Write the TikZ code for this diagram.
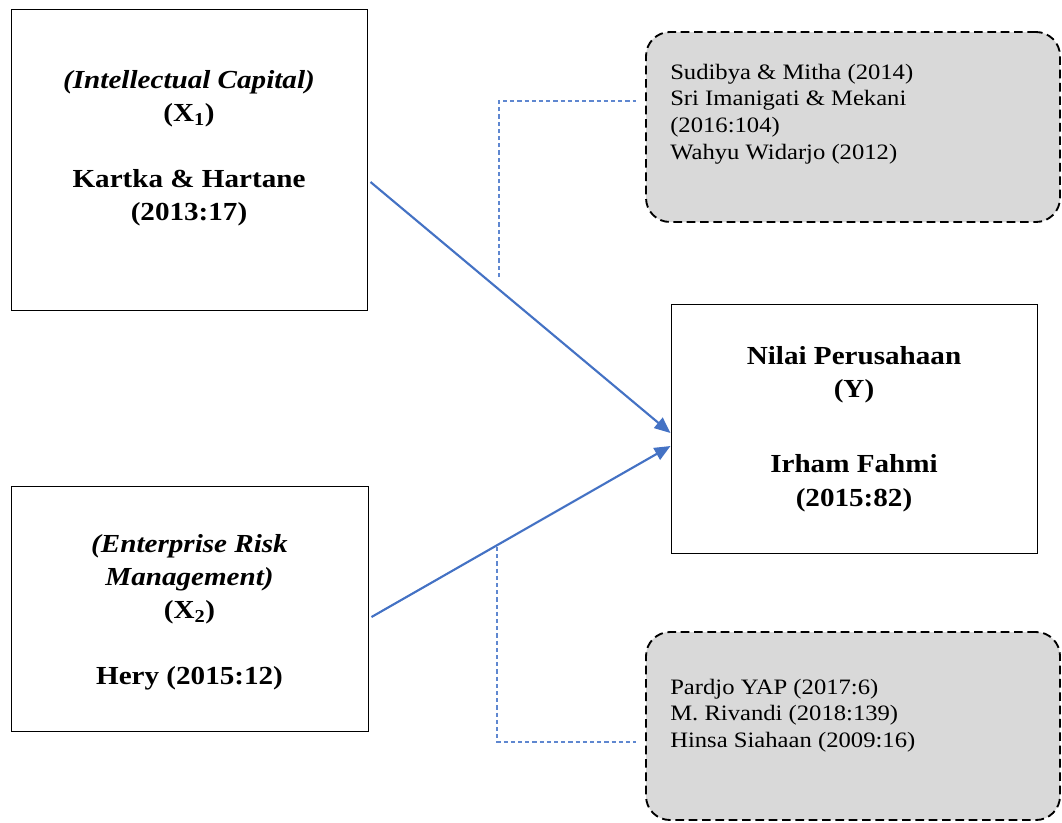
\documentclass[tikz,border=0pt]{standalone}
\usepackage{fontspec}
\setmainfont{Liberation Serif}[FakeStretch=1.12]
\usetikzlibrary{arrows.meta}
\definecolor{arrblue}{HTML}{4472C4}
\definecolor{dashblue}{HTML}{5F87D0}
\definecolor{boxgray}{HTML}{D9D9D9}
\begin{document}
\begin{tikzpicture}[x=0.75pt,y=-0.75pt,
 varbox/.style={draw=black, line width=0.75pt, rectangle, inner sep=0pt},
 refbox/.style={draw=black, fill=boxgray, dash pattern=on 6.5pt off 3.5pt, line width=1.4pt, rounded corners=18pt, rectangle, inner sep=0pt},
 btext/.style={font=\fontsize{19.5}{24.75}\selectfont\bfseries, inner sep=0pt, anchor=base},
 rtext/.style={font=\fontsize{16.5}{20}\selectfont, inner sep=0pt, anchor=base west},
 arr/.style={draw=arrblue, line width=1.6pt, -{Triangle[length=12pt,width=10pt]}},
 link/.style={draw=dashblue, line width=0.9pt, dash pattern=on 3.2pt off 2.2pt}]
\useasboundingbox (0,0) rectangle (1062,822);

% boxes
\node[varbox, minimum width=267pt, minimum height=225.75pt] (x1) at (189,159.5) {};
\node[varbox, minimum width=267.75pt, minimum height=183.75pt] (x2) at (189.5,608.5) {};
\node[varbox, minimum width=274.5pt, minimum height=186.75pt] (y) at (854,428.5) {};
\node[refbox, minimum width=310.5pt, minimum height=142.5pt] (r1) at (853,127) {};
\node[refbox, minimum width=310.5pt, minimum height=141pt] (r2) at (853,726) {};

% texts
\node[btext] (x1t) at (189,88) {\parbox[t]{260pt}{\centering
 \textit{(Intellectual Capital)}\\
 (X\textsubscript{1})\\[24.75pt]
 Kartka \& Hartane\\
 (2013:17)}};
\node[btext] (x2t) at (189.5,552) {\parbox[t]{260pt}{\centering
 \textit{(Enterprise Risk}\\
 \textit{Management)}\\
 (X\textsubscript{2})\\[24.75pt]
 Hery (2015:12)}};
\node[btext] (yt) at (854,364) {\parbox[t]{260pt}{\centering
 Nilai Perusahaan\\
 (Y)\\[32pt]
 Irham Fahmi\\[0.75pt]
 (2015:82)}};
\node[rtext] (r1t) at (670,79) {\parbox[t]{290pt}{\raggedright
 Sudibya \& Mitha (2014)\\
 Sri Imanigati \& Mekani\\
 (2016:104)\\
 Wahyu Widarjo (2012)}};
\node[rtext] (r2t) at (670,694) {\parbox[t]{290pt}{\raggedright
 Pardjo YAP (2017:6)\\
 M. Rivandi (2018:139)\\
 Hinsa Siahaan (2009:16)}};

% arrows
\draw[arr] ([shift={(3,22.5)}]x1.east) -- ([shift={(0,4.5)}]y.west);
\draw[arr] ([shift={(3,8.5)}]x2.east) -- ([shift={(0,17.5)}]y.west);

% dashed links
\coordinate (a1) at (499,277);
\coordinate (a2) at (497,547);
\draw[link] (a1) |- ([shift={(-9,-26)}]r1.west);
\draw[link] (a2) |- ([shift={(-9,16)}]r2.west);
\end{tikzpicture}
\end{document}
